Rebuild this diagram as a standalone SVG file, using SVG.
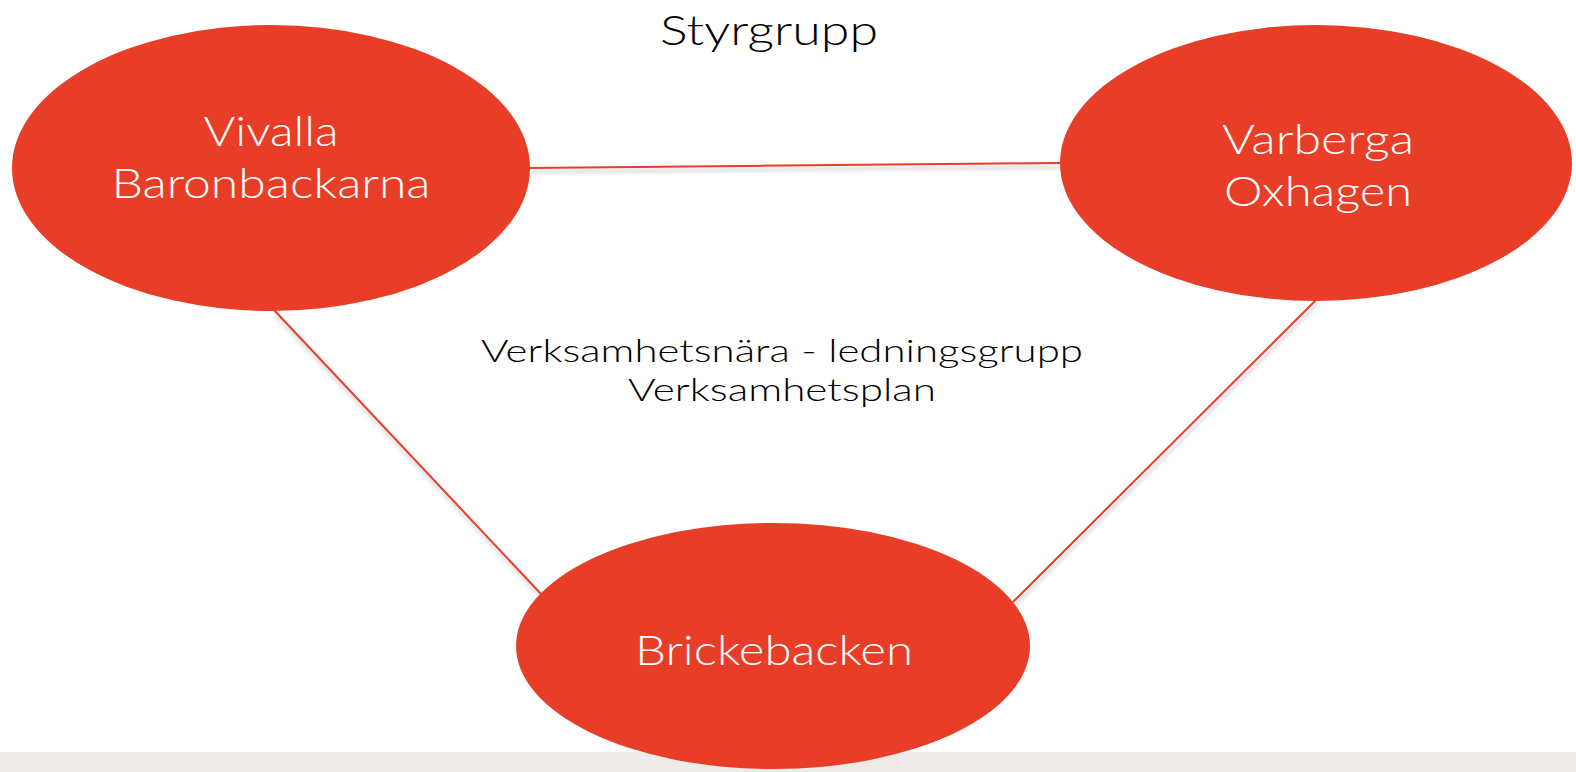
<svg xmlns="http://www.w3.org/2000/svg" width="1576" height="772" viewBox="0 0 1576 772">
  <defs>
    <filter id="shadow" x="-10%" y="-10%" width="120%" height="130%">
      <feGaussianBlur in="SourceAlpha" stdDeviation="2"/>
      <feOffset dx="1" dy="4" result="b"/>
      <feComponentTransfer><feFuncA type="linear" slope="0.25"/></feComponentTransfer>
      <feMerge><feMergeNode/><feMergeNode in="SourceGraphic"/></feMerge>
    </filter>
  </defs>
  <style>
    .node { fill: #E83D27; }
    .conn { stroke: #E83D27; stroke-width: 2; fill: none; }
    .ntext { fill: #FFFFFF; font-family: "Lato", "Liberation Sans", sans-serif; font-weight: 300; font-size: 42px; text-anchor: middle; }
    .label { fill: #000000; font-family: "Lato", "Liberation Sans", sans-serif; font-weight: 300; text-anchor: middle; }
  </style>
  <rect x="0" y="0" width="1576" height="772" fill="#FFFFFF"/>
  <rect x="0" y="752" width="1576" height="20" fill="#EDECE8"/>
  <g id="connectors" filter="url(#shadow)">
    <line class="conn" x1="528" y1="168" x2="1060" y2="163"/>
    <line class="conn" x1="274" y1="310" x2="541" y2="594"/>
    <line class="conn" x1="1316" y1="300" x2="1013" y2="602"/>
  </g>
  <g id="node-vivalla">
    <ellipse class="node" cx="271" cy="168" rx="259" ry="143"/>
    <text class="ntext" x="271" y="146" textLength="135" lengthAdjust="spacingAndGlyphs">Vivalla</text>
    <text class="ntext" x="271" y="198" textLength="319" lengthAdjust="spacingAndGlyphs">Baronbackarna</text>
  </g>
  <g id="node-varberga">
    <ellipse class="node" cx="1316" cy="163" rx="256" ry="138"/>
    <text class="ntext" x="1318" y="154" textLength="192" lengthAdjust="spacingAndGlyphs">Varberga</text>
    <text class="ntext" x="1318" y="206" textLength="188" lengthAdjust="spacingAndGlyphs">Oxhagen</text>
  </g>
  <g id="node-brickebacken">
    <ellipse class="node" cx="773" cy="646" rx="257" ry="123"/>
    <text class="ntext" x="774" y="665" textLength="278" lengthAdjust="spacingAndGlyphs">Brickebacken</text>
  </g>
  <g id="title">
    <text class="label" x="769" y="45" font-size="41" textLength="218" lengthAdjust="spacingAndGlyphs">Styrgrupp</text>
  </g>
  <g id="center-label">
    <text class="label" x="782" y="362" font-size="32" textLength="602" lengthAdjust="spacingAndGlyphs">Verksamhetsnära - ledningsgrupp</text>
    <text class="label" x="782" y="401" font-size="32" textLength="308" lengthAdjust="spacingAndGlyphs">Verksamhetsplan</text>
  </g>
</svg>
